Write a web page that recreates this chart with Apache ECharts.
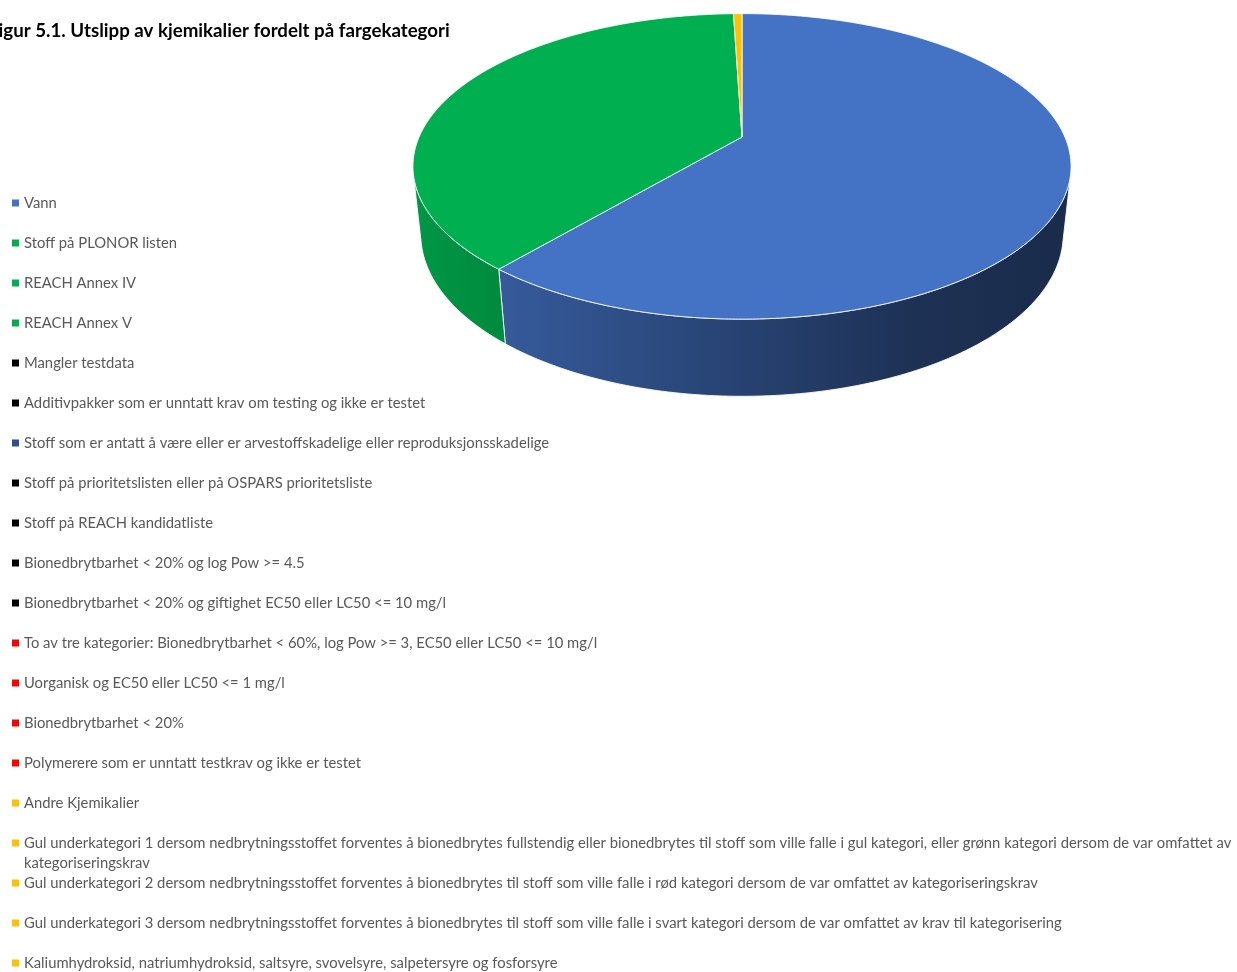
<!DOCTYPE html>
<html><head><meta charset="utf-8">
<script src="https://cdn.jsdelivr.net/npm/echarts@6/dist/echarts.min.js"></script>
<style>html,body{margin:0;padding:0;background:#fff;overflow:hidden}#c{width:1237px;height:972px}</style>
</head><body><div id="c"></div>
<script>
// ---- data ----
const titleText = 'Figur 5.1. Utslipp av kjemikalier fordelt på fargekategori';
const categories = [
  'Vann',
  'Stoff på PLONOR listen',
  'REACH Annex IV',
  'REACH Annex V',
  'Mangler testdata',
  'Additivpakker som er unntatt krav om testing og ikke er testet',
  'Stoff som er antatt å være eller er arvestoffskadelige eller reproduksjonsskadelige',
  'Stoff på prioritetslisten eller på OSPARS prioritetsliste',
  'Stoff på REACH kandidatliste',
  'Bionedbrytbarhet < 20% og log Pow >= 4.5',
  'Bionedbrytbarhet < 20% og giftighet EC50 eller LC50 <= 10 mg/l',
  'To av tre kategorier: Bionedbrytbarhet < 60%, log Pow >= 3, EC50 eller LC50 <= 10 mg/l',
  'Uorganisk og EC50 eller LC50 <= 1 mg/l',
  'Bionedbrytbarhet < 20%',
  'Polymerere som er unntatt testkrav og ikke er testet',
  'Andre Kjemikalier',
  'Gul underkategori 1 dersom nedbrytningsstoffet forventes å bionedbrytes fullstendig eller bionedbrytes til stoff som ville falle i gul kategori, eller grønn kategori dersom de var omfattet av kategoriseringskrav',
  'Gul underkategori 2 dersom nedbrytningsstoffet forventes å bionedbrytes til stoff som ville falle i rød kategori dersom de var omfattet av kategoriseringskrav',
  'Gul underkategori 3 dersom nedbrytningsstoffet forventes å bionedbrytes til stoff som ville falle i svart kategori dersom de var omfattet av krav til kategorisering',
  'Kaliumhydroksid, natriumhydroksid, saltsyre, svovelsyre, salpetersyre og fosforsyre'
];
const shares = [61.1, 38.4, 0, 0, 0, 0, 0, 0, 0, 0, 0, 0, 0, 0, 0, 0.5, 0, 0, 0, 0];
const colors = [
  '#4472C4', '#00B050', '#00B050', '#00B050', '#000000', '#000000', '#2F4F8F',
  '#000000', '#000000', '#000000', '#000000', '#FF0000', '#FF0000', '#FF0000', '#FF0000',
  '#FFC000', '#FFC000', '#FFC000', '#FFC000', '#FFC000'
];

// ---- 3D pie projection (perspective view of a tilted cylinder) ----
const V = {cx: 742, cy: 137, f: 1495, D: 4.63, elev: 27.1, H: 0.238};
const sE = Math.sin(V.elev * Math.PI / 180), cE = Math.cos(V.elev * Math.PI / 180);
function proj(deg, z) {
  const t = deg * Math.PI / 180;
  const X = Math.sin(t), Y = Math.cos(t);
  const yp = Y * sE + z * cE;
  const d = V.D + Y * cE - z * sE;
  return [V.cx + V.f * X / d, V.cy - V.f * yp / d];
}
const VIS0 = Math.acos(-1 / (V.D * cE)) * 180 / Math.PI;
const VIS1 = 360 - VIS0;
function arc(a1, a2, z) {
  const n = Math.max(2, Math.ceil((a2 - a1) / 0.5));
  const pts = [];
  for (let k = 0; k <= n; k++) pts.push(proj(a1 + (a2 - a1) * k / n, z));
  return pts;
}
function shade(hex, k) {
  const n = parseInt(hex.slice(1), 16);
  const r = Math.round(((n >> 16) & 255) * k), g = Math.round(((n >> 8) & 255) * k), b = Math.round((n & 255) * k);
  return 'rgb(' + r + ',' + g + ',' + b + ')';
}
const total = shares.reduce((a, b) => a + b, 0);
const starts = [];
let acc = 0;
shares.forEach(v => { starts.push(acc / total * 360); acc += v; });
const gx0 = proj(VIS1, 0)[0], gx1 = proj(VIS0, 0)[0];

function renderSlice(i) {
  return function (params, api) {
    const v = api.value(0);
    if (!(v > 0)) return;
    const a1 = starts[i], a2 = a1 + v / total * 360;
    const col = colors[i];
    const children = [];
    const w1 = Math.max(a1, VIS0), w2 = Math.min(a2, VIS1);
    if (w2 > w1) {
      const pts = arc(w1, w2, 0).concat(arc(w1, w2, -V.H).reverse());
      children.push({
        type: 'polygon', z2: 1,
        shape: {points: pts},
        style: {
          fill: new echarts.graphic.LinearGradient(gx0, 0, gx1, 0, [
            {offset: 0, color: shade(col, 0.86)},
            {offset: 0.15, color: shade(col, 0.78)},
            {offset: 0.5, color: shade(col, 0.58)},
            {offset: 0.75, color: shade(col, 0.44)},
            {offset: 1, color: shade(col, 0.38)}
          ], true),
          stroke: 'rgba(255,255,255,0.85)', lineWidth: 1
        }
      });
    }
    const top = [[V.cx, V.cy]].concat(arc(a1, a2, 0));
    children.push({
      type: 'polygon', z2: 10,
      shape: {points: top},
      style: {fill: col, stroke: 'rgba(255,255,255,0.85)', lineWidth: 1}
    });
    return {type: 'group', children: children};
  };
}

const chart = echarts.init(document.getElementById('c'));
const textBase = {fontFamily: 'Lato', fontSize: 14.8, color: '#595959', lineHeight: 20};
const legendBase = {
  orient: 'vertical', left: 12, padding: 0, itemGap: 20, itemWidth: 7, itemHeight: 7,
  icon: 'rect', selectedMode: false, textStyle: textBase
};
const mk = (name) => ({name: name, itemStyle: {color: colors[categories.indexOf(name)]}});
chart.setOption({
  animation: false,
  backgroundColor: '#ffffff',
  title: {
    text: titleText, left: -12, top: 21, padding: 0,
    textStyle: {fontFamily: 'Lato', fontWeight: 'bold', fontSize: 18.7, color: '#000000', lineHeight: 20}
  },
  legend: [
    Object.assign({}, legendBase, {top: 193, height: 700, data: categories.slice(0, 16).map(mk)}),
    Object.assign({}, legendBase, {top: 813, height: 100, data: categories.slice(16, 17).map(mk),
      formatter: (name) => '\n' + name,
      textStyle: Object.assign({}, textBase, {width: 1245, overflow: 'break'})}),
    Object.assign({}, legendBase, {top: 873, height: 140, data: categories.slice(17).map(mk)})
  ],
  series: categories.map((name, i) => ({
    type: 'custom', name: name, coordinateSystem: 'none', silent: true,
    itemStyle: {color: colors[i]},
    renderItem: renderSlice(i),
    data: [[shares[i]]]
  }))
});
</script>
</body></html>
